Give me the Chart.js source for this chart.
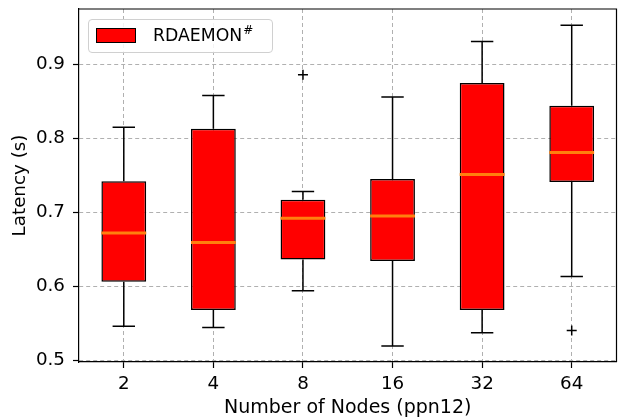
<!DOCTYPE html>
<html>
<head>
<meta charset="utf-8">
<script src="https://cdn.jsdelivr.net/npm/chart.js@4.4.0/dist/chart.umd.min.js"></script>
<style>
  body { margin: 0; background: #fff; }
  #wrap { position: relative; width: 620px; height: 419px; overflow: hidden; }
  #legend {
    position: absolute; left: 88px; top: 19px; width: 183px; height: 32px;
    border: 1px solid #d0d0d0; border-radius: 4px; background: rgba(255,255,255,0.85);
    font-family: "DejaVu Sans", sans-serif; font-size: 17.3px; color: #000;
  }
  #legend .patch {
    position: absolute; left: 7px; top: 8px; width: 38px; height: 13px;
    background: #ff0000; border: 1px solid #000;
  }
  #legend .lbl { position: absolute; left: 64px; top: 5px; line-height: 20px; white-space: nowrap; }
  #legend sup { font-size: 12px; line-height: 0; vertical-align: 0; position: relative; top: -7px; margin-left: 1px; }
</style>
</head>
<body>
<div id="wrap">
  <canvas id="boxChart" width="623" height="419"></canvas>
  <div id="legend"><span class="patch"></span><span class="lbl">RDAEMON<sup>#</sup></span></div>
</div>
<script>
// categories and box stats
const nodes = ['2', '4', '8', '16', '32', '64'];
const whiskerLow = [0.546, 0.544, 0.594, 0.519, 0.537, 0.613];
const q1 = [0.606, 0.568, 0.636, 0.634, 0.568, 0.741];
const median = [0.672, 0.659, 0.692, 0.695, 0.751, 0.781];
const q3 = [0.742, 0.813, 0.717, 0.745, 0.875, 0.844];
const whiskerHigh = [0.815, 0.858, 0.728, 0.856, 0.931, 0.953];
const fliers = [null, null, 0.886, null, null, 0.540];
const yTicks = [0.5, 0.6, 0.7, 0.8, 0.9];

const ctx = document.getElementById('boxChart').getContext('2d');

// whiskers, medians and the top/right frame
const boxParts = {
    id: 'boxParts',
    beforeDatasetsDraw(chart) {
        const y = chart.scales.y;
        const bars = chart.getDatasetMeta(0).data;
        const c = chart.ctx;
        c.save();
        c.strokeStyle = '#000';
        c.lineWidth = 1.5;
        bars.forEach((bar, i) => {
            const cap = bar.width / 4;
            const yl = y.getPixelForValue(whiskerLow[i]);
            const yh = y.getPixelForValue(whiskerHigh[i]);
            c.beginPath();
            c.moveTo(bar.x, y.getPixelForValue(q1[i]));
            c.lineTo(bar.x, yl);
            c.moveTo(bar.x - cap, yl);
            c.lineTo(bar.x + cap, yl);
            c.moveTo(bar.x, y.getPixelForValue(q3[i]));
            c.lineTo(bar.x, yh);
            c.moveTo(bar.x - cap, yh);
            c.lineTo(bar.x + cap, yh);
            c.stroke();
        });
        c.restore();
    },
    afterDatasetsDraw(chart) {
        const y = chart.scales.y;
        const bars = chart.getDatasetMeta(0).data;
        const c = chart.ctx;
        const a = chart.chartArea;
        c.save();
        c.strokeStyle = '#ff7f0e';
        c.lineWidth = 3;
        bars.forEach((bar, i) => {
            const ym = y.getPixelForValue(median[i]);
            c.beginPath();
            c.moveTo(bar.x - bar.width / 2, ym);
            c.lineTo(bar.x + bar.width / 2, ym);
            c.stroke();
        });
        c.strokeStyle = '#000';
        c.lineWidth = 1.2;
        c.beginPath();
        c.moveTo(a.left, a.top);
        c.lineTo(a.right, a.top);
        c.lineTo(a.right, a.bottom);
        c.stroke();
        c.restore();
    }
};

const font = { family: '"DejaVu Sans", sans-serif', size: 18.3 };
const titleFont = { family: '"DejaVu Sans", sans-serif', size: 19 };

new Chart(ctx, {
    type: 'bar',
    data: {
        labels: nodes,
        datasets: [{
            label: 'RDAEMON#',
            data: nodes.map((n, i) => [q1[i], q3[i]]),
            backgroundColor: '#ff0000',
            borderColor: '#000',
            borderWidth: 1.5,
            borderSkipped: false,
            barPercentage: 0.5,
            categoryPercentage: 1.0
        }, {
            type: 'line',
            label: 'fliers',
            data: fliers,
            showLine: false,
            pointStyle: 'cross',
            pointRadius: 5,
            pointBorderWidth: 1.5,
            pointBorderColor: '#000',
            pointBackgroundColor: '#000'
        }]
    },
    options: {
        responsive: false,
        animation: false,
        layout: { padding: { top: 9, right: 1, left: 9, bottom: 0 } },
        plugins: {
            legend: { display: false },
            tooltip: { enabled: false }
        },
        scales: {
            x: {
                offset: true,
                grid: {
                    offset: false,
                    color: '#b0b0b0',
                    tickColor: '#000',
                    tickLength: 6,
                    tickBorderDash: [],
                    tickWidth: 1.2
                },
                border: { color: '#000', width: 1.2, dash: [4, 3] },
                ticks: { color: '#000', font: font, padding: 5 },
                title: { display: true, text: 'Number of Nodes (ppn12)', color: '#000', font: titleFont, padding: 0 },
                afterFit(scale) {
                    scale.height = 57;
                    scale.paddingLeft = 0;
                    scale.paddingRight = 0;
                }
            },
            y: {
                min: 0.4975,
                max: 0.975,
                afterBuildTicks(scale) { scale.ticks = yTicks.map(v => ({ value: v })); },
                grid: {
                    color: '#b0b0b0',
                    tickColor: '#000',
                    tickLength: 6,
                    tickBorderDash: [],
                    tickWidth: 1.2
                },
                border: { color: '#000', width: 1.2, dash: [4, 3] },
                ticks: { color: '#000', font: font, padding: 8, callback: v => v.toFixed(1) },
                title: { display: true, text: 'Latency (s)', color: '#000', font: font, padding: 0 },
                afterFit(scale) {
                    scale.width = 70;
                    scale.paddingTop = 0;
                    scale.paddingBottom = 0;
                }
            }
        }
    },
    plugins: [boxParts]
});
</script>
</body>
</html>
